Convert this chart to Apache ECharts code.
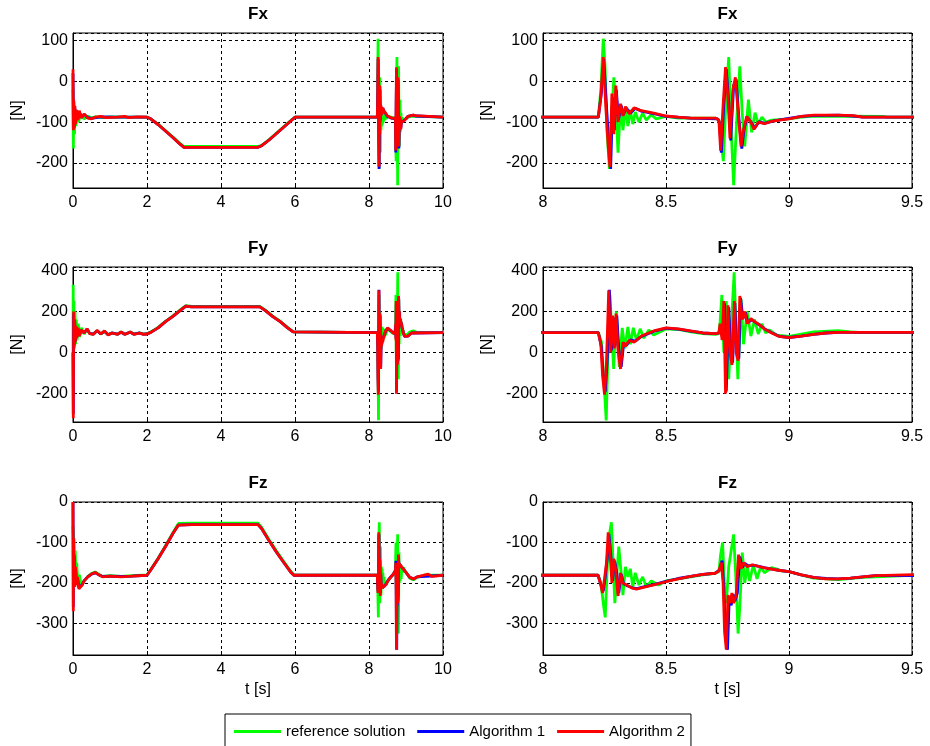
<!doctype html>
<html lang="en">
<head>
    <meta charset="UTF-8">
    <title>Fx Fy Fz</title>
    <style>html, body { margin: 0; padding: 0; background: #fff; }</style>
</head>
<body>
    <script src="https://cdn.jsdelivr.net/npm/echarts@6/dist/echarts.min.js"></script>
    <div id="chart" style="width: 930px; height: 746px"></div>

    <script>
        var seriesNames = ['reference solution', 'Algorithm 1', 'Algorithm 2'];
        var seriesColors = ['#00ff00', '#0000ff', '#ff0000'];
        var panelTitles = ['Fx', 'Fy', 'Fz'];
        var yLimits = [[-262, 119], [-338, 416], [-378, 0]];
        var xLimits = [[0, 10], [8, 9.5]];
        var xSteps = [2, 0.5];

        // [t, F] pairs
        var fxRef = [[0,-20],[0.01,-165],[0.02,-60],[0.04,-130],[0.06,-70],[0.08,-110],[0.11,-75],[0.15,-100],[0.2,-80],[0.3,-92],[0.4,-86],[0.5,-90],[0.6,-87],[0.8,-89],[1.0,-87],[1.4,-88],[2.0,-88],[2.1,-92],[2.3,-105],[2.5,-121],[2.7,-137],[2.9,-153],[3.0,-160],[4.0,-160],[5.0,-160],[5.1,-157],[5.3,-143],[5.5,-127],[5.7,-111],[5.9,-95],[6.0,-88],[8.225,-88],[8.235,-20],[8.245,105],[8.252,40],[8.26,-120],[8.27,-215],[8.278,-100],[8.288,10],[8.296,-60],[8.305,-175],[8.315,-60],[8.325,-120],[8.335,-65],[8.345,-110],[8.355,-70],[8.365,-105],[8.375,-75],[8.39,-100],[8.405,-78],[8.42,-95],[8.44,-82],[8.46,-92],[8.5,-86],[8.55,-90],[8.7,-90],[8.715,-95],[8.725,-150],[8.733,-196],[8.745,-30],[8.755,60],[8.765,-120],[8.775,-255],[8.787,-100],[8.8,37],[8.81,-80],[8.82,-160],[8.835,-45],[8.848,-125],[8.862,-77],[8.875,-105],[8.89,-88],[8.905,-100],[8.93,-95],[9.0,-92],[9.05,-88],[9.1,-85],[9.38,-86],[9.4,-88],[10,-88]];
        var fxAlg1 = [[0,20],[0.01,-115],[0.02,-50],[0.035,-110],[0.05,-65],[0.07,-100],[0.1,-72],[0.13,-93],[0.17,-74],[0.22,-89],[0.3,-81],[0.4,-89],[0.5,-91],[0.75,-87],[1.2,-88],[2.0,-88],[2.1,-92],[2.3,-106],[2.5,-122],[2.7,-138],[2.9,-155],[3.0,-162],[5.0,-162],[5.1,-158],[5.3,-144],[5.5,-128],[5.7,-112],[5.9,-96],[6.0,-88],[8.225,-88],[8.237,-30],[8.247,55],[8.257,-50],[8.267,-150],[8.275,-215],[8.283,-40],[8.29,-120],[8.298,-20],[8.307,-95],[8.317,-58],[8.327,-82],[8.338,-65],[8.355,-78],[8.375,-66],[8.4,-73],[8.45,-79],[8.5,-86],[8.6,-90],[8.71,-92],[8.717,-100],[8.725,-175],[8.735,-55],[8.745,30],[8.755,-50],[8.763,-145],[8.775,-10],[8.785,5],[8.797,-95],[8.808,-165],[8.818,-115],[8.83,-88],[8.848,-102],[8.86,-115],[8.878,-99],[8.9,-103],[8.94,-97],[9.0,-91],[9.05,-86],[9.1,-84],[9.2,-83],[9.26,-85],[9.3,-88],[10,-88]];
        var fxAlg2 = [[0,30],[0.01,-120],[0.02,-45],[0.035,-115],[0.05,-60],[0.07,-105],[0.1,-70],[0.13,-95],[0.17,-72],[0.22,-90],[0.3,-80],[0.4,-90],[0.5,-92],[0.6,-88],[0.75,-86],[0.9,-89],[1.2,-88],[1.4,-86],[1.5,-89],[1.75,-87],[2.0,-88],[2.1,-92],[2.3,-106],[2.5,-122],[2.7,-138],[2.9,-155],[3.0,-162],[4.0,-162],[5.0,-162],[5.1,-158],[5.3,-144],[5.5,-128],[5.7,-112],[5.9,-96],[6.0,-88],[8.225,-88],[8.235,-40],[8.245,60],[8.255,-60],[8.265,-160],[8.272,-210],[8.28,-30],[8.288,-130],[8.296,-10],[8.305,-100],[8.315,-55],[8.325,-85],[8.335,-62],[8.35,-80],[8.37,-65],[8.4,-72],[8.45,-78],[8.5,-85],[8.55,-88],[8.6,-90],[8.7,-90],[8.715,-95],[8.722,-170],[8.732,-60],[8.742,35],[8.752,-40],[8.76,-140],[8.772,-20],[8.782,10],[8.795,-90],[8.805,-160],[8.815,-120],[8.828,-86],[8.845,-100],[8.858,-118],[8.875,-100],[8.9,-104],[8.93,-98],[8.96,-95],[9.0,-92],[9.05,-86],[9.1,-83],[9.2,-83],[9.26,-84],[9.3,-88],[10,-88]];

        var fyRef = [[0,0],[0.005,330],[0.015,0],[0.025,250],[0.04,20],[0.055,200],[0.07,40],[0.09,160],[0.11,60],[0.14,140],[0.18,75],[0.23,120],[0.3,90],[0.38,112],[0.45,92],[0.55,90],[0.65,106],[0.75,90],[0.85,103],[0.95,87],[1.05,95],[1.2,89],[1.3,100],[1.4,89],[1.55,100],[1.65,89],[1.8,96],[1.9,90],[2.0,92],[2.1,100],[2.3,122],[2.5,152],[2.7,178],[2.9,207],[3.05,228],[3.2,224],[4.0,224],[5.05,224],[5.2,206],[5.4,177],[5.6,152],[5.8,122],[5.95,100],[6.0,97],[8.225,97],[8.238,50],[8.248,-150],[8.257,-330],[8.264,0],[8.272,280],[8.28,100],[8.287,-80],[8.298,200],[8.31,-70],[8.322,120],[8.333,20],[8.345,125],[8.355,40],[8.367,120],[8.38,60],[8.395,115],[8.41,70],[8.43,110],[8.45,85],[8.5,115],[8.55,112],[8.6,100],[8.65,92],[8.7,88],[8.715,92],[8.72,150],[8.727,280],[8.735,0],[8.745,250],[8.755,-130],[8.765,120],[8.777,390],[8.785,100],[8.792,-130],[8.805,260],[8.815,40],[8.83,200],[8.845,80],[8.86,160],[8.875,90],[8.89,140],[8.905,95],[8.92,110],[8.95,85],[9.0,78],[9.05,90],[9.1,100],[9.2,106],[9.25,100],[9.3,97],[10,97]];
        var fyAlg1 = [[0,0],[0.008,-300],[0.018,190],[0.03,35],[0.045,150],[0.06,55],[0.08,125],[0.1,72],[0.13,118],[0.17,82],[0.22,108],[0.3,96],[0.38,114],[0.45,93],[0.55,89],[0.65,106],[0.75,91],[0.85,103],[0.95,86],[1.05,95],[1.2,89],[1.3,99],[1.4,89],[1.55,99],[1.65,89],[1.8,95],[1.9,89],[2.0,90],[2.1,98],[2.3,120],[2.5,150],[2.7,176],[2.9,205],[3.05,226],[3.2,222],[4.0,222],[5.05,222],[5.2,204],[5.4,175],[5.6,150],[5.8,120],[5.95,100],[6.0,97],[8.225,97],[8.237,30],[8.245,-120],[8.253,-190],[8.261,-40],[8.27,305],[8.278,10],[8.286,170],[8.293,30],[8.3,180],[8.308,20],[8.318,-70],[8.328,45],[8.34,35],[8.355,62],[8.375,55],[8.4,78],[8.45,103],[8.5,118],[8.55,114],[8.6,104],[8.65,95],[8.7,92],[8.717,95],[8.722,130],[8.73,70],[8.738,240],[8.745,-190],[8.755,220],[8.763,10],[8.771,-50],[8.78,240],[8.788,10],[8.796,-30],[8.803,265],[8.813,165],[8.823,195],[8.833,145],[8.848,160],[8.862,148],[8.88,134],[8.9,116],[8.93,96],[8.96,79],[9.0,73],[9.05,80],[9.1,88],[9.15,95],[9.2,98],[10,97]];
        var fyAlg2 = [[0,0],[0.008,-320],[0.018,200],[0.03,30],[0.045,160],[0.06,50],[0.08,130],[0.1,70],[0.13,120],[0.17,80],[0.22,110],[0.3,95],[0.38,116],[0.45,92],[0.55,88],[0.65,108],[0.75,90],[0.85,105],[0.95,85],[1.05,95],[1.2,88],[1.3,100],[1.4,88],[1.55,100],[1.65,88],[1.8,95],[1.9,88],[2.0,90],[2.1,98],[2.3,120],[2.5,150],[2.7,176],[2.9,205],[3.05,226],[3.1,230],[3.2,222],[4.0,222],[5.05,222],[5.2,204],[5.4,175],[5.6,150],[5.8,120],[5.95,100],[6.0,97],[8.225,97],[8.235,40],[8.242,-110],[8.25,-205],[8.258,-50],[8.267,303],[8.275,0],[8.283,180],[8.29,20],[8.297,190],[8.305,10],[8.315,-80],[8.325,50],[8.335,30],[8.35,60],[8.37,50],[8.4,80],[8.45,105],[8.5,120],[8.55,115],[8.6,105],[8.65,95],[8.7,92],[8.715,95],[8.72,140],[8.728,60],[8.735,250],[8.742,-200],[8.752,230],[8.76,0],[8.768,-60],[8.778,250],[8.785,0],[8.793,-40],[8.8,275],[8.81,160],[8.82,200],[8.83,140],[8.845,165],[8.86,150],[8.88,135],[8.9,115],[8.93,95],[8.96,78],[9.0,72],[9.05,80],[9.1,88],[9.15,95],[9.2,98],[10,97]];

        var fzRef = [[0,-60],[0.01,-80],[0.02,-150],[0.03,-90],[0.045,-200],[0.06,-120],[0.08,-190],[0.1,-150],[0.13,-200],[0.17,-180],[0.22,-205],[0.3,-195],[0.4,-184],[0.5,-177],[0.6,-173],[0.7,-179],[0.8,-184],[1.0,-182],[1.3,-184],[1.6,-182],[2.0,-180],[2.1,-167],[2.3,-139],[2.5,-108],[2.7,-76],[2.85,-53],[3.2,-52],[4.0,-52],[5.0,-52],[5.1,-63],[5.3,-93],[5.5,-121],[5.7,-148],[5.9,-173],[5.97,-180],[8.224,-181],[8.235,-200],[8.245,-250],[8.253,-285],[8.262,-150],[8.27,-80],[8.278,-50],[8.285,-150],[8.292,-250],[8.3,-180],[8.308,-110],[8.317,-170],[8.325,-230],[8.335,-160],[8.345,-185],[8.355,-165],[8.365,-210],[8.375,-175],[8.39,-205],[8.405,-185],[8.42,-210],[8.44,-195],[8.47,-205],[8.5,-195],[8.55,-190],[8.6,-185],[8.65,-180],[8.7,-176],[8.715,-172],[8.722,-130],[8.73,-100],[8.738,-210],[8.745,-250],[8.755,-160],[8.765,-120],[8.775,-80],[8.785,-200],[8.793,-325],[8.8,-260],[8.81,-125],[8.82,-200],[8.83,-160],[8.84,-195],[8.855,-155],[8.87,-190],[8.885,-160],[8.9,-175],[8.93,-162],[8.97,-170],[9.0,-172],[9.05,-180],[9.1,-188],[9.2,-192],[9.3,-186],[9.5,-181],[10,-181]];
        var fzAlg1 = [[0,0],[0.008,-260],[0.016,-95],[0.025,-195],[0.035,-135],[0.05,-205],[0.07,-162],[0.09,-203],[0.12,-186],[0.16,-212],[0.2,-208],[0.25,-204],[0.3,-195],[0.4,-185],[0.5,-178],[0.6,-175],[0.7,-180],[0.8,-184],[1.0,-183],[1.3,-184],[1.6,-183],[2.0,-181],[2.1,-168],[2.3,-140],[2.5,-110],[2.7,-78],[2.85,-57],[3.2,-56],[5.0,-56],[5.1,-66],[5.3,-96],[5.5,-124],[5.7,-150],[5.9,-175],[5.97,-181],[8.224,-181],[8.237,-208],[8.245,-220],[8.253,-185],[8.261,-140],[8.268,-80],[8.275,-125],[8.283,-195],[8.291,-145],[8.3,-175],[8.308,-225],[8.318,-178],[8.328,-202],[8.343,-207],[8.363,-212],[8.383,-214],[8.4,-211],[8.45,-204],[8.5,-196],[8.55,-189],[8.6,-184],[8.65,-179],[8.7,-176],[8.718,-168],[8.728,-145],[8.735,-210],[8.742,-330],[8.75,-365],[8.757,-240],[8.765,-255],[8.773,-228],[8.78,-245],[8.79,-225],[8.8,-135],[8.81,-162],[8.82,-152],[8.835,-158],[8.855,-156],[8.9,-162],[8.95,-168],[9.0,-172],[9.05,-180],[9.1,-186],[9.15,-189],[9.2,-190],[9.25,-188],[9.3,-185],[9.35,-182],[10,-181]];
        var fzAlg2 = [[0,0],[0.008,-270],[0.016,-90],[0.025,-200],[0.035,-130],[0.05,-210],[0.07,-160],[0.09,-205],[0.12,-185],[0.16,-215],[0.2,-210],[0.25,-205],[0.3,-195],[0.4,-185],[0.5,-178],[0.6,-174],[0.7,-180],[0.8,-185],[1.0,-183],[1.3,-185],[1.6,-183],[2.0,-181],[2.1,-168],[2.3,-140],[2.5,-110],[2.7,-78],[2.85,-57],[3.2,-56],[4.0,-56],[5.0,-56],[5.1,-66],[5.3,-96],[5.5,-124],[5.7,-150],[5.9,-175],[5.97,-181],[8.224,-181],[8.235,-205],[8.242,-225],[8.25,-190],[8.258,-150],[8.265,-75],[8.272,-120],[8.28,-200],[8.288,-140],[8.296,-170],[8.305,-232],[8.315,-175],[8.325,-200],[8.34,-205],[8.36,-212],[8.38,-215],[8.4,-212],[8.45,-205],[8.5,-197],[8.55,-190],[8.6,-184],[8.65,-179],[8.7,-176],[8.715,-170],[8.725,-150],[8.732,-200],[8.738,-320],[8.745,-365],[8.752,-230],[8.76,-250],[8.768,-225],[8.775,-250],[8.785,-230],[8.795,-130],[8.805,-165],[8.815,-150],[8.83,-160],[8.85,-155],[8.9,-163],[8.95,-168],[9.0,-172],[9.05,-180],[9.1,-186],[9.15,-190],[9.2,-190],[9.25,-188],[9.3,-185],[9.35,-182],[9.6,-178],[9.7,-184],[10,-181]];

        var forces = [[fxRef, fxAlg1, fxAlg2], [fyRef, fyAlg1, fyAlg2], [fzRef, fzAlg1, fzAlg2]];

        var font = 'Liberation Sans, Arial, sans-serif';
        var rowTop = [33, 267, 502];
        var rowH = [155, 155, 153];
        var colLeft = [73, 543];
        var colW = [370, 369];

        var grids = [], xAxes = [], yAxes = [], titles = [], series = [];

        for (var r = 0; r < 3; r++) {
            for (var c = 0; c < 2; c++) {
                var i = r * 2 + c;
                grids.push({
                    left: colLeft[c], top: rowTop[r], width: colW[c], height: rowH[r],
                    show: true, borderColor: '#000', borderWidth: 1, backgroundColor: '#fff'
                });
                titles.push({
                    text: panelTitles[r],
                    left: colLeft[c] + colW[c] / 2,
                    top: rowTop[r] - 27,
                    textAlign: 'center',
                    padding: 0,
                    textStyle: { fontSize: 17, fontWeight: 'bold', color: '#000', fontFamily: font }
                });
                xAxes.push({
                    gridIndex: i, type: 'value',
                    min: xLimits[c][0], max: xLimits[c][1], interval: xSteps[c],
                    name: r === 2 ? 't [s]' : '',
                    nameLocation: 'middle', nameGap: 27,
                    nameTextStyle: { fontSize: 16, color: '#000', fontFamily: font },
                    axisLine: { show: true, onZero: false, lineStyle: { color: '#000', width: 1 } },
                    axisTick: { show: true, inside: true, length: 4, lineStyle: { color: '#000' } },
                    axisLabel: { color: '#000', fontSize: 16, fontFamily: font, margin: 7 },
                    splitLine: { show: true, lineStyle: { color: '#000', type: [3, 3], width: 1 } }
                });
                yAxes.push({
                    gridIndex: i, type: 'value',
                    min: yLimits[r][0], max: yLimits[r][1], splitNumber: 4,
                    name: '[N]', nameLocation: 'middle', nameGap: 47, nameRotate: 90,
                    nameTextStyle: { fontSize: 16, color: '#000', fontFamily: font },
                    axisLine: { show: true, lineStyle: { color: '#000', width: 1 } },
                    axisTick: { show: true, inside: true, length: 4, lineStyle: { color: '#000' } },
                    axisLabel: {
                        color: '#000', fontSize: 16, fontFamily: font, margin: 5,
                        showMinLabel: false, showMaxLabel: r === 2
                    },
                    splitLine: { show: true, lineStyle: { color: '#000', type: [3, 3], width: 1 } }
                });
                for (var k = 0; k < 3; k++) {
                    series.push({
                        type: 'line',
                        name: seriesNames[k],
                        xAxisIndex: i, yAxisIndex: i,
                        data: forces[r][k],
                        symbol: 'none',
                        clip: true,
                        z: 2 + k,
                        lineStyle: { width: 2.8, color: seriesColors[k] },
                        itemStyle: { color: seriesColors[k] }
                    });
                }
            }
        }

        var option = {
            animation: false,
            backgroundColor: '#fff',
            textStyle: { fontFamily: font },
            title: titles,
            grid: grids,
            xAxis: xAxes,
            yAxis: yAxes,
            legend: {
                data: seriesNames,
                left: 225, top: 714,
                icon: 'rect', itemWidth: 47, itemHeight: 3, itemGap: 12,
                padding: [10, 6, 20, 9],
                borderColor: '#000', borderWidth: 1, backgroundColor: '#fff',
                textStyle: { fontSize: 15, color: '#000', fontFamily: font }
            },
            series: series
        };

        var chart = echarts.init(document.getElementById('chart'));
        chart.setOption(option);
    </script>
</body>
</html>
